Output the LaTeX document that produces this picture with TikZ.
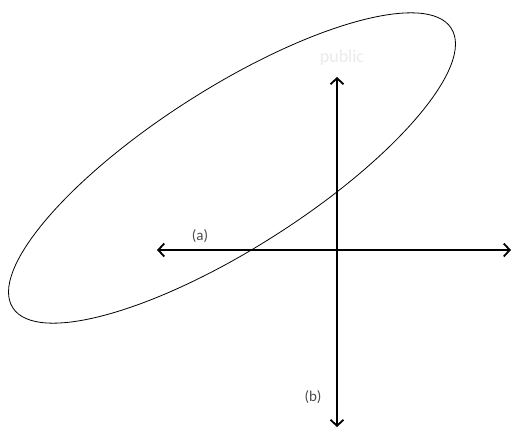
\documentclass[tikz,border=0pt]{standalone}
\usepackage{fontspec}
\setmainfont{Carlito}
\usetikzlibrary{arrows.meta}
\begin{document}
\begin{tikzpicture}[x=1pt,y=1pt,
  axisline/.style={line width=1.8pt,{Straight Barb[length=6pt,width=13pt]}-{Straight Barb[length=6pt,width=13pt]}},
  lbl/.style={font=\fontsize{15}{17}\selectfont,text=black!70,inner sep=0pt},
  faint/.style={font=\fontsize{18}{20}\selectfont,text=black!8,inner sep=0pt}]
\fill[white] (0,0) rectangle (513,432);
\useasboundingbox (0,0) rectangle (513,432);
\draw[line width=0.8pt,rotate around={32.5:(232,264)}] (232,264) ellipse (260 and 80);
\coordinate (hl) at (157,182);
\coordinate (hr) at (511,182);
\coordinate (vt) at (337,355);
\coordinate (vb) at (337,5);
\draw[axisline] (hl) -- (hr);
\draw[axisline] (vb) -- (vt);
\node[lbl] (a) at (200,196) {(a)};
\node[lbl] (b) at (313,35) {(b)};
\node[faint] (p) at (342,374) {public};
\end{tikzpicture}
\end{document}
